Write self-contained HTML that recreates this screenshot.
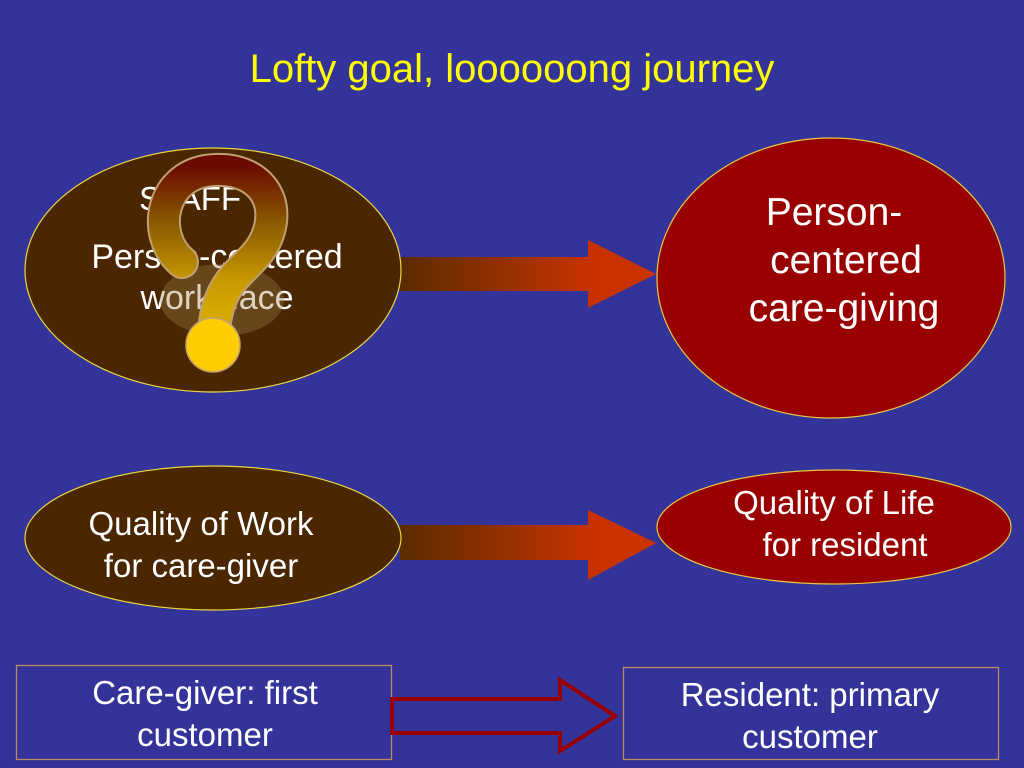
<!DOCTYPE html>
<html><head><meta charset="utf-8"><style>
html,body{margin:0;padding:0;background:#333399;}
svg{display:block}
text{font-family:"Liberation Sans",sans-serif;fill:#fff}
</style></head><body>
<svg width="1024" height="768" viewBox="0 0 1024 768">
<defs>
<linearGradient id="ag" x1="0" x2="1" y1="0" y2="0">
<stop offset="0" stop-color="#5a2c00"/><stop offset="0.75" stop-color="#c83200"/><stop offset="1" stop-color="#cc3300"/>
</linearGradient>
<linearGradient id="qg" gradientUnits="userSpaceOnUse" x1="0" x2="0" y1="165" y2="310">
<stop offset="0" stop-color="#6a0a00"/><stop offset="0.4" stop-color="#8a5a00"/><stop offset="0.8" stop-color="#c89a00"/><stop offset="1" stop-color="#d4a800"/>
</linearGradient>
</defs>
<rect width="1024" height="768" fill="#333399"/>
<text x="512" y="82" text-anchor="middle" font-size="40" style="fill:#ffff00">Lofty goal, loooooong journey</text>

<polygon points="400,257 588,257 588,240 656,274 588,308 588,291 400,291" fill="url(#ag)"/>
<polygon points="400,525 588,525 588,510 656,543 588,580 588,560 400,560" fill="url(#ag)"/>

<ellipse cx="213" cy="270" rx="188" ry="122" fill="#4a2700" stroke="#e8d840" stroke-width="1.2"/>
<ellipse cx="831" cy="278" rx="174" ry="140" fill="#990000" stroke="#e8c840" stroke-width="1.2"/>
<ellipse cx="213" cy="538" rx="188" ry="72" fill="#4a2700" stroke="#e8d840" stroke-width="1.2"/>
<ellipse cx="834" cy="527" rx="177" ry="57" fill="#990000" stroke="#e8c840" stroke-width="1.2"/>

<text x="190" y="210" text-anchor="middle" font-size="33">STAFF</text>
<text x="217" y="268" text-anchor="middle" font-size="34">Person-centered</text>
<text x="217" y="309" text-anchor="middle" font-size="34">workplace</text>

<!-- question mark -->
<ellipse cx="222" cy="300" rx="62" ry="36" fill="#a08050" opacity="0.35"/>
<path d="M 182 262 C 150 235, 160 172, 215 170 C 262 168, 285 205, 263 245 C 248 270, 222 275, 215 322" fill="none" stroke="#c0a070" stroke-width="34" stroke-linecap="round"/>
<path d="M 182 262 C 150 235, 160 172, 215 170 C 262 168, 285 205, 263 245 C 248 270, 222 275, 215 322" fill="none" stroke="url(#qg)" stroke-width="30" stroke-linecap="round"/>
<circle cx="213" cy="345" r="27" fill="#ffcc00" stroke="#c0a070" stroke-width="1.5"/>

<text x="834" y="225" text-anchor="middle" font-size="39">Person-</text>
<text x="846" y="273" text-anchor="middle" font-size="39">centered</text>
<text x="844" y="321" text-anchor="middle" font-size="39">care-giving</text>

<text x="201" y="535" text-anchor="middle" font-size="33">Quality of Work</text>
<text x="201" y="577" text-anchor="middle" font-size="33">for care-giver</text>

<text x="834" y="514" text-anchor="middle" font-size="33">Quality of Life</text>
<text x="845" y="556" text-anchor="middle" font-size="33">for resident</text>

<rect x="16.5" y="665.5" width="375" height="94" fill="none" stroke="#c08860" stroke-width="1.3"/>
<rect x="623.5" y="667.5" width="375" height="92" fill="none" stroke="#c08860" stroke-width="1.3"/>
<text x="205" y="704" text-anchor="middle" font-size="33">Care-giver: first</text>
<text x="205" y="746" text-anchor="middle" font-size="33">customer</text>
<text x="810" y="706" text-anchor="middle" font-size="33">Resident: primary</text>
<text x="810" y="748" text-anchor="middle" font-size="33">customer</text>

<polygon points="392,699 560,699 560,680 615,716 560,751 560,733 392,733" fill="none" stroke="#990000" stroke-width="4"/>
</svg>
</body></html>
